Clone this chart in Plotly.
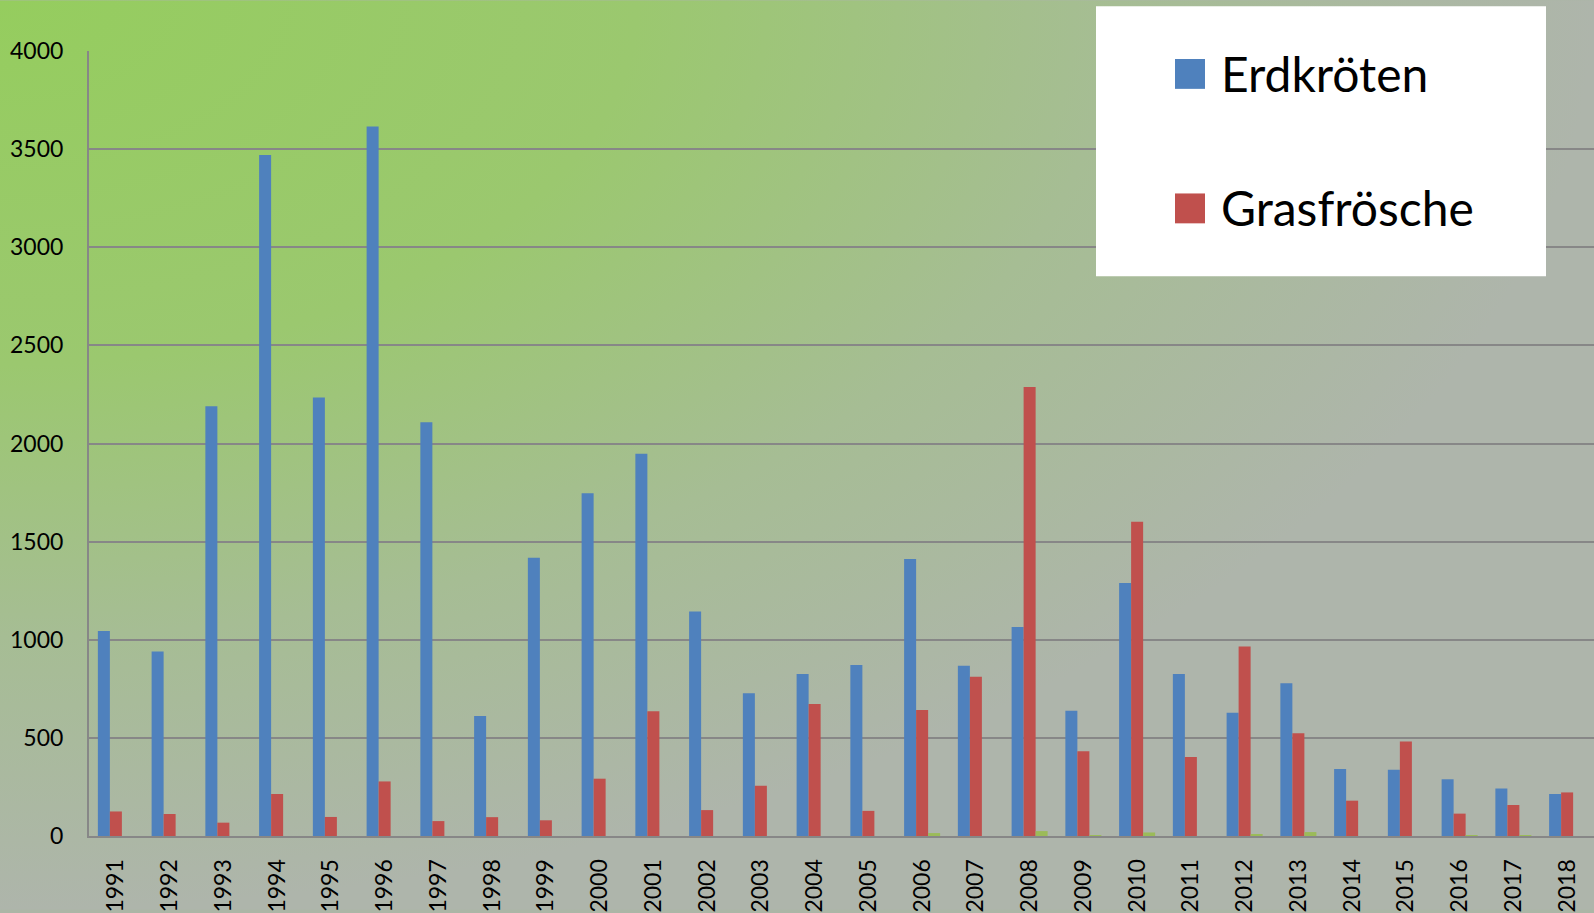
import base64
import plotly.graph_objects as go

years = [str(y) for y in range(1991, 2019)]
erdkroeten = [1045, 940, 2190, 3470, 2235, 3615, 2108, 612, 1418, 1746, 1948, 1144,
              727, 825, 871, 1412, 868, 1065, 638, 1289, 825, 628, 778, 342,
              337, 289, 242, 214]
grasfroesche = [125, 112, 68, 214, 97, 278, 76, 96, 80, 292, 636, 132,
                256, 672, 128, 642, 812, 2288, 432, 1601, 402, 966, 524, 180,
                482, 114, 158, 222]
molche = [0, 0, 0, 0, 0, 0, 0, 0, 0, 0, 0, 0,
          0, 0, 0, 15, 0, 25, 5, 18, 0, 10, 20, 0,
          0, 4, 4, 0]
yticks = [0, 500, 1000, 1500, 2000, 2500, 3000, 3500, 4000]

W, H = 1594, 913
L, R, T, B = 89, 0, 51, 74
PW, PH = W - L - R, H - T - B

FONT = "Lato, Carlito, 'Open Sans', sans-serif"
BLUE, RED, GREEN = "#4F81BD", "#C0504D", "#9BBB59"
GRID = "#878787"

svg = f'''<svg xmlns="http://www.w3.org/2000/svg" width="{W}" height="{H}" preserveAspectRatio="none">
<defs><radialGradient id="g" cx="0" cy="0" r="1" fx="0" fy="0">
<stop offset="0" stop-color="#95CD5E"/>
<stop offset="0.4" stop-color="#9BC86F"/>
<stop offset="0.7" stop-color="#A6BD94"/>
<stop offset="1" stop-color="#AEB5AB"/>
</radialGradient></defs>
<rect x="0" y="0" width="{W}" height="{H}" fill="url(#g)"/></svg>'''
src = "data:image/svg+xml;base64," + base64.b64encode(svg.encode()).decode()

def px(x):
    return (x - L) / PW

def py(y):
    return (H - B - y) / PH

fig = go.Figure()
fig.add_trace(go.Bar(x=years, y=erdkroeten, name="Erdkröten", marker=dict(color=BLUE, line=dict(width=0))))
fig.add_trace(go.Bar(x=years, y=grasfroesche, name="Grasfrösche", marker=dict(color=RED, line=dict(width=0))))
fig.add_trace(go.Bar(x=years, y=molche, name="Molche", marker=dict(color=GREEN, line=dict(width=0))))

fig.add_layout_image(dict(source=src, xref="paper", yref="paper", x=px(0), y=py(0),
                          sizex=W / PW, sizey=H / PH, sizing="stretch",
                          xanchor="left", yanchor="top", layer="below"))

shapes = [
    dict(type="rect", xref="paper", yref="paper", x0=px(1096), x1=px(1546), y0=py(277), y1=py(6),
         fillcolor="white", line=dict(width=0), layer="above"),
    dict(type="rect", xref="paper", yref="paper", x0=px(1175), x1=px(1205), y0=py(89), y1=py(59),
         fillcolor=BLUE, line=dict(width=0), layer="above"),
    dict(type="rect", xref="paper", yref="paper", x0=px(1175), x1=px(1205), y0=py(224), y1=py(194),
         fillcolor=RED, line=dict(width=0), layer="above"),
]
annotations = [
    dict(text="Erdkröten", xref="paper", yref="paper", x=px(1219), y=py(74), xanchor="left",
         yanchor="middle", showarrow=False, font=dict(family=FONT, size=48, color="black")),
    dict(text="Grasfrösche", xref="paper", yref="paper", x=px(1219), y=py(208), xanchor="left",
         yanchor="middle", showarrow=False, font=dict(family=FONT, size=48, color="black")),
]

fig.update_layout(
    width=W, height=H,
    margin=dict(l=L, r=R, t=T, b=B, pad=0),
    paper_bgcolor="#ABB6A6", plot_bgcolor="rgba(0,0,0,0)",
    barmode="group", bargap=0.33, bargroupgap=0,
    showlegend=False,
    font=dict(family=FONT, size=23, color="black"),
    shapes=shapes, annotations=annotations,
    xaxis=dict(type="category", tickangle=-90, showgrid=False, showline=True, linecolor=GRID,
               linewidth=2, ticks="", ticklabelstandoff=12, tickfont=dict(size=23)),
    yaxis=dict(range=[0, 4000], tickvals=yticks, showgrid=True, gridcolor=GRID, gridwidth=2,
               showline=True, linecolor=GRID, linewidth=2, ticks="", zeroline=False,
               ticklabelstandoff=19, tickfont=dict(size=23)),
)

fig.write_html("out.html", config={"displayModeBar": False},
               post_script="document.body.style.margin='0';document.body.style.overflow='hidden';"
                           "document.body.style.background='#ADB5AA';"
                           "document.documentElement.style.background='#ADB5AA';")
